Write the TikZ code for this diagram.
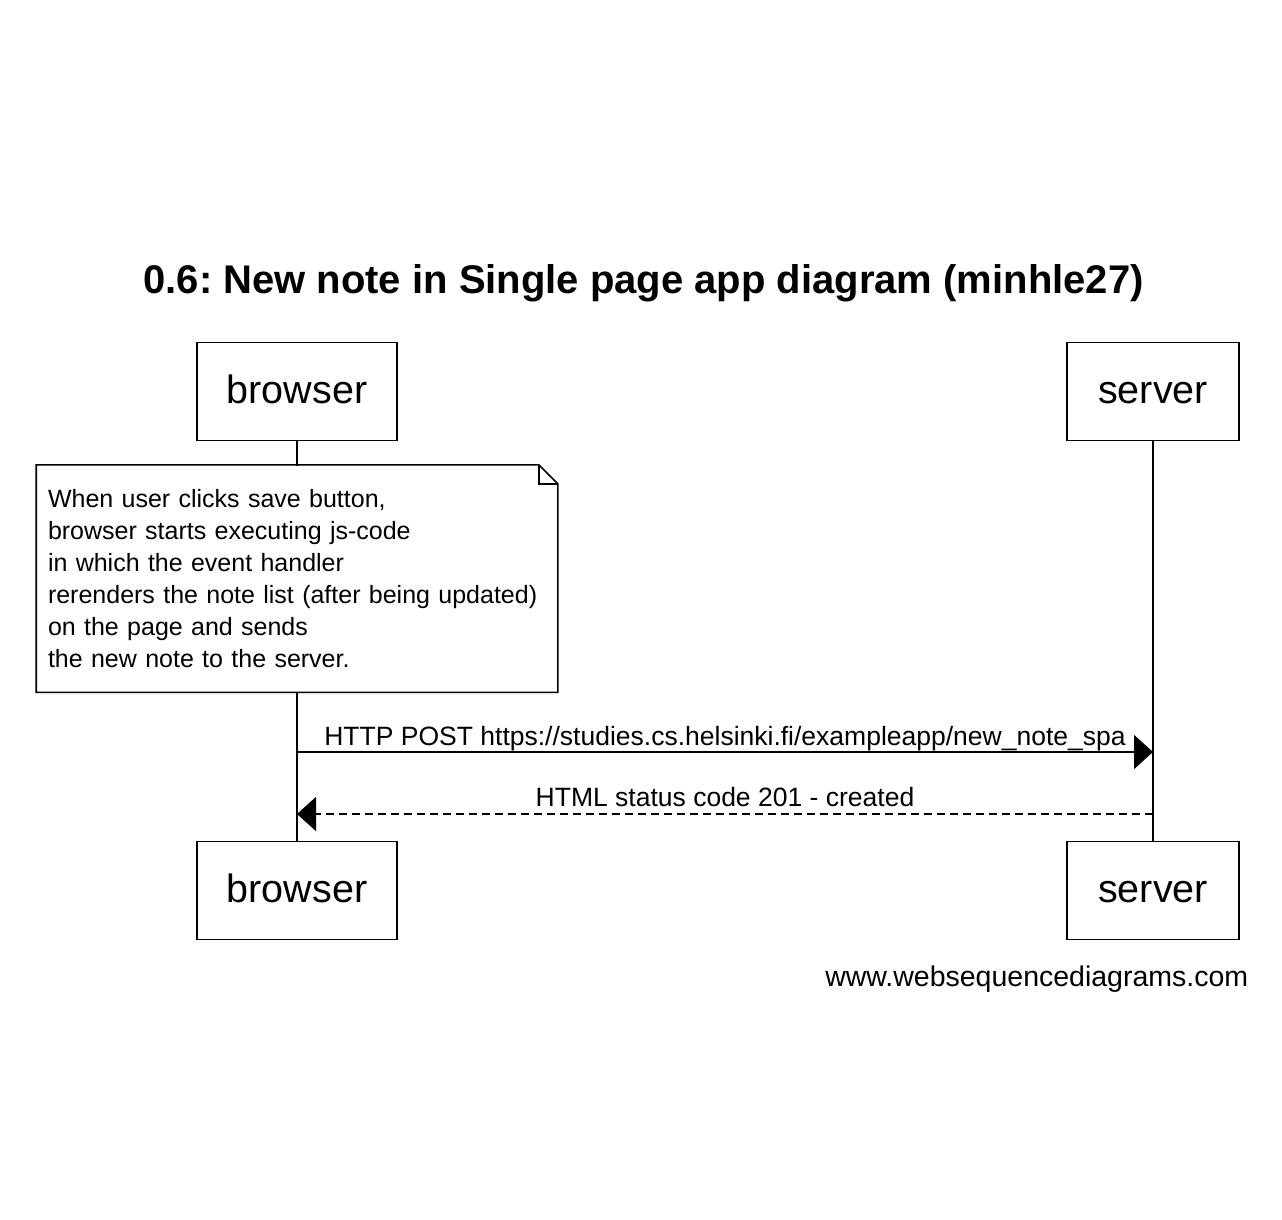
\documentclass[tikz,border=0pt]{standalone}
\usepackage{fontspec}
\setmainfont{Liberation Sans}
\usepackage{tikz}
\usetikzlibrary{positioning,arrows.meta,calc}
\frenchspacing

\begin{document}
\begin{tikzpicture}[x=1pt, y=-1pt, line width=1.6pt,
            actor/.style = {draw, minimum height=98pt, font=\fontsize{39.5}{46}\selectfont, text height=28pt, text depth=5pt},
            notebox/.style = {fill=white, minimum width=520pt, minimum height=226pt, inner xsep=11pt, text width=498pt, align=left, font=\fontsize{25}{32}\selectfont},
            msg/.style = {font=\fontsize{26.5}{30}\selectfont, anchor=base, inner sep=0pt},
            sync/.style = {-{Triangle[length=19pt, width=34pt]}},
            reply/.style = {sync, dash pattern=on 8pt off 5pt}]
            \useasboundingbox (0,0) rectangle (1282,1220);

            \node[font=\fontsize{40}{46}\selectfont\bfseries, anchor=base, inner sep=0pt] (title) at (643.5,293) {0.6: New note in Single page app diagram (minhle27)};

            \node[actor, minimum width=200pt] (b1) at (297,391.5) {browser};
            \node[actor, minimum width=172pt] (s1) at (1153,391.5) {server};
            \node[actor, minimum width=200pt] (b2) [below=399.5pt of b1] {browser};
            \node[actor, minimum width=172pt] (s2) [below=399.5pt of s1] {server};

            \draw (b1) -- (b2);
            \draw (s1) -- (s2);

            % note with folded corner
            \node[notebox] (note) [below=23.5pt of b1] {When user clicks save button,\\browser starts executing js-code\\in which the event handler\\rerenders the note list (after being updated)\\on the page and sends\\the new note to the server.};
            \draw (note.north west) -- ([xshift=-19pt]note.north east) -- ([yshift=-19pt]note.north east) -- (note.south east) -- (note.south west) -- cycle;
            \draw ([xshift=-19pt]note.north east) |- ([yshift=-19pt]note.north east);

            \coordinate (req_b) at (b1 |- 0,752);
            \coordinate (req_s) at (s1 |- 0,752);
            \coordinate (res_b) at (b1 |- 0,814);
            \coordinate (res_s) at (s1 |- 0,814);

            \draw[sync] (req_b) -- (req_s) node[msg, midway, yshift=7pt] {HTTP POST https://studies.cs.helsinki.fi/exampleapp/new\_note\_spa};
            \draw[reply] (res_s) -- (res_b) node[msg, midway, yshift=8pt] {HTML status code 201 - created};

            \node[font=\fontsize{28.5}{32}\selectfont, anchor=base east, inner sep=0pt] (site) at (1249,986) {www.websequencediagrams.com};
        \end{tikzpicture}
\end{document}
